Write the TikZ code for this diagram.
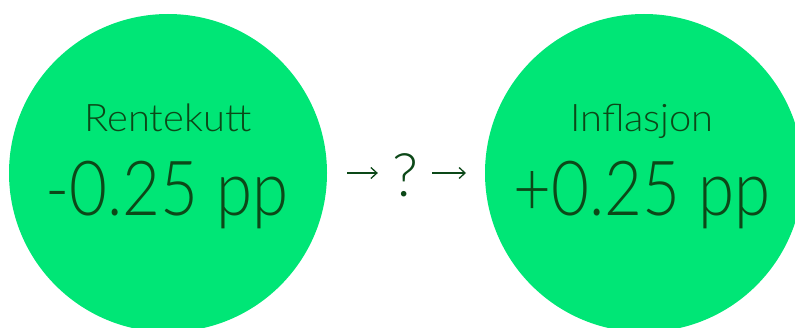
\documentclass[tikz,border=0pt]{standalone}
\usepackage{fontspec}
\setmainfont{Lato}[UprightFont=* Light]
\newfontfamily\bigfont{Lato}[UprightFont=* Light,FakeStretch=0.86]
\newfontfamily\smallfont{Lato}[UprightFont=* Light,FakeStretch=1.05]
\usetikzlibrary{arrows.meta}
\definecolor{ballgreen}{RGB}{0,230,118}
\definecolor{ink}{RGB}{12,72,24}
\begin{document}
\begin{tikzpicture}[x=1pt,y=1pt,
  ball/.style={circle,fill=ballgreen,minimum size=318pt,inner sep=0pt},
  small/.style={text=ink,font=\smallfont\fontsize{38}{40}\selectfont,anchor=base},
  big/.style={text=ink,font=\bigfont\fontsize{76}{78}\selectfont,anchor=base},
  arr/.style={draw=ink,line width=1.3pt,-{Straight Barb[length=6pt,width=11pt,line width=1.3pt]}}]
\useasboundingbox (0,0) rectangle (795,327);
\clip (0,0) rectangle (795,327);
\node[ball] (a) at (168,154) {};
\node[ball] (b) at (644,154) {};
\node[small] (at) at (168,195) {Rentekutt};
\node[big] (av) at (167,112) {-0.25 pp};
\node[small] (bt) at (642,195) {Inflasjon};
\node[big] (bv) at (642,112) {+0.25 pp};
\node[text=ink,font=\fontsize{60}{60}\selectfont,inner sep=0pt] (q) at (405,152) {?};
\coordinate (a1) at (347,154);
\coordinate (b1) at (466,154);
\draw[arr] (a1) -- ([xshift=-14pt]q.west |- a1);
\draw[arr] ([xshift=14pt]q.east |- b1) -- (b1);
\end{tikzpicture}
\end{document}
